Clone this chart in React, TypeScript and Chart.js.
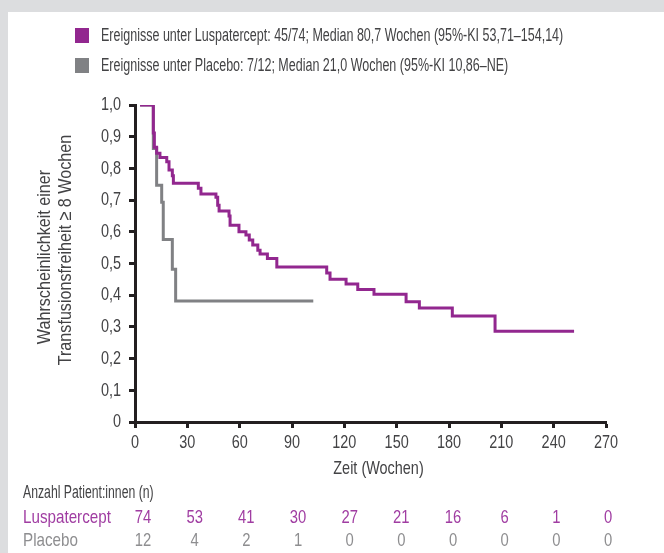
import React, { useEffect, useRef } from "react";
import { Chart, registerables } from "chart.js";

Chart.register(...registerables);

// ---- Data ----
const lusWeeks = [2.9, 10.5, 11.1, 12.4, 14.3, 18.2, 19.5, 21.4, 22.0, 36.3, 37.8, 46.4, 47.4, 48.2, 53.9, 54.5, 59.6, 63.6, 65.5, 67.5, 70.4, 71.7, 75.9, 81.3, 109.9, 111.8, 121.0, 127.7, 137.0, 155.4, 163.0, 181.9, 206.4, 251.7];
const lusSurv = [1.0, 0.912, 0.867, 0.848, 0.834, 0.821, 0.795, 0.777, 0.753, 0.737, 0.719, 0.709, 0.684, 0.666, 0.65, 0.621, 0.6, 0.59, 0.574, 0.558, 0.542, 0.53, 0.516, 0.489, 0.47, 0.45, 0.435, 0.418, 0.403, 0.379, 0.36, 0.334, 0.286, 0.286];

const plaWeeks = [2.9, 10.5, 12.4, 15.3, 16.2, 21.4, 23.3, 102.2];
const plaSurv = [1.0, 0.863, 0.747, 0.693, 0.576, 0.482, 0.382, 0.382];

const legendLabels = [
  "Ereignisse unter Luspatercept: 45/74; Median 80,7 Wochen (95%-KI 53,71\u2013154,14)",
  "Ereignisse unter Placebo: 7/12; Median 21,0 Wochen (95%-KI 10,86\u2013NE)",
];
const xTitle = "Zeit (Wochen)";
const yTitle = ["Wahrscheinlichkeit einer", "Transfusionsfreiheit \u2265 8 Wochen"];
const riskHeader = "Anzahl Patient:innen (n)";
const riskLabels = ["Luspatercept", "Placebo"];
const riskLus = [74, 53, 41, 30, 27, 21, 16, 6, 1, 0];
const riskPla = [12, 4, 2, 1, 0, 0, 0, 0, 0, 0];

const PURPLE = "#92278F";
const GRAY = "#808184";
const RISK_PURPLE = "#A03DA2";
const RISK_GRAY = "#8E8E90";
const TEXT = "#434345";
const AXIS = "#231F20";
const FONT = "'Liberation Sans', Arial, sans-serif";

function txt(
  ctx: CanvasRenderingContext2D,
  s: string,
  x: number,
  y: number,
  size: number,
  sx: number,
  color: string,
  align: CanvasTextAlign,
  rotate = false
) {
  ctx.save();
  ctx.translate(x, y);
  if (rotate) ctx.rotate(-Math.PI / 2);
  ctx.scale(sx, 1);
  ctx.font = `${size}px ${FONT}`;
  ctx.fillStyle = color;
  ctx.textAlign = align;
  ctx.textBaseline = "middle";
  ctx.fillText(s, 0, 0);
  ctx.restore();
}

const fmtY = (v: number) => (v === 0 ? "0" : v.toFixed(1).replace(".", ","));

const decorPlugin = {
  id: "decor",
  beforeDraw(chart: any) {
    const { ctx, width, height } = chart;
    ctx.save();
    ctx.fillStyle = "#ffffff";
    ctx.fillRect(0, 0, width, height);
    ctx.fillStyle = "#DCDDDF";
    ctx.fillRect(0, 0, width, 12);
    ctx.fillRect(0, 0, 8, height);
    ctx.restore();
  },
  afterDraw(chart: any) {
    const { ctx } = chart;
    const xs = chart.scales.x;
    const ys = chart.scales.y;
    // legend
    const colors = [PURPLE, GRAY];
    const ly = [36, 66];
    legendLabels.forEach((t, i) => {
      ctx.fillStyle = colors[i];
      ctx.fillRect(75, ly[i] - 8, 14, 15);
      txt(ctx, t, 101, ly[i], 18, 0.695, TEXT, "left");
    });
    // tick labels
    ys.ticks.forEach((t: any) => {
      txt(ctx, fmtY(t.value), 121, ys.getPixelForValue(t.value), 19, 0.76, TEXT, "right");
    });
    xs.ticks.forEach((t: any) => {
      txt(ctx, String(t.value), xs.getPixelForValue(t.value), 443, 19, 0.76, TEXT, "center");
    });
    // axis titles
    const cx = (chart.chartArea.left + chart.chartArea.right) / 2 + 8;
    txt(ctx, xTitle, cx, 469, 19, 0.76, TEXT, "center");
    txt(ctx, yTitle[0], 45, 257, 19, 0.85, TEXT, "center", true);
    txt(ctx, yTitle[1], 66, 250, 19, 0.85, TEXT, "center", true);
    // number at risk table
    const left = xs.getPixelForValue(0) + 8;
    const right = xs.getPixelForValue(270) + 2;
    const n = riskLus.length;
    txt(ctx, riskHeader, 23, 493, 18, 0.68, TEXT, "left");
    txt(ctx, riskLabels[0], 23, 518, 19, 0.8, RISK_PURPLE, "left");
    txt(ctx, riskLabels[1], 23, 541, 19, 0.8, RISK_GRAY, "left");
    for (let i = 0; i < n; i++) {
      const x = left + ((right - left) * i) / (n - 1);
      txt(ctx, String(riskLus[i]), x, 518, 19, 0.78, RISK_PURPLE, "center");
      txt(ctx, String(riskPla[i]), x, 541, 19, 0.78, RISK_GRAY, "center");
    }
  },
};

export default function App() {
  const ref = useRef<HTMLCanvasElement | null>(null);
  useEffect(() => {
    document.body.style.margin = "0";
    const canvas = ref.current;
    if (!canvas) return;
    const gridOpts = {
      drawOnChartArea: false,
      drawTicks: true,
      tickLength: 6,
      tickWidth: 3,
      tickColor: AXIS,
    };
    const chart = new Chart(canvas, {
      type: "line",
      data: {
        datasets: [
          {
            label: "Luspatercept",
            data: lusWeeks.map((w, i) => ({ x: w, y: lusSurv[i] })),
            borderColor: PURPLE,
            borderWidth: 3,
            pointRadius: 0,
            stepped: "before",
            fill: false,
          },
          {
            label: "Placebo",
            data: plaWeeks.map((w, i) => ({ x: w, y: plaSurv[i] })),
            borderColor: GRAY,
            borderWidth: 3,
            pointRadius: 0,
            stepped: "before",
            fill: false,
          },
        ],
      },
      options: {
        responsive: false,
        animation: false,
        layout: { padding: { top: 105, right: 58, bottom: 73, left: 0 } },
        plugins: { legend: { display: false }, tooltip: { enabled: false } },
        scales: {
          x: {
            type: "linear",
            min: 0,
            max: 270,
            afterFit: (s: any) => {
              s.height = 58;
            },
            ticks: { stepSize: 30, display: false },
            grid: gridOpts,
            border: { display: true, color: AXIS, width: 3 },
          },
          y: {
            type: "linear",
            min: 0,
            max: 1,
            afterFit: (s: any) => {
              s.width = 135;
            },
            ticks: { stepSize: 0.1, display: false },
            grid: gridOpts,
            border: { display: true, color: AXIS, width: 3 },
          },
        },
      },
      plugins: [decorPlugin],
    } as any);
    return () => chart.destroy();
  }, []);
  return (
    <div style={{ width: 664, height: 553 }}>
      <canvas ref={ref} width={664} height={553} />
    </div>
  );
}
